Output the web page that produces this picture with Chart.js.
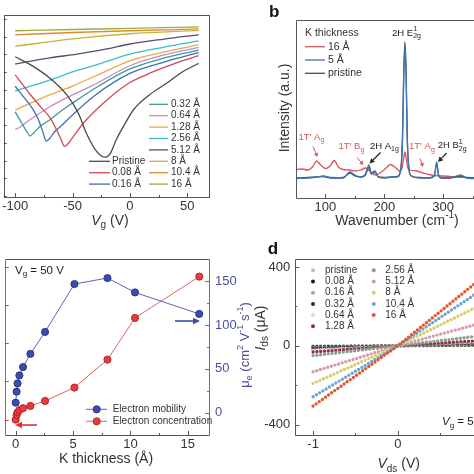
<!DOCTYPE html>
<html><head><meta charset="utf-8">
<script src="https://cdn.jsdelivr.net/npm/chart.js@4.4.1/dist/chart.umd.min.js"></script>
<style>
html,body{margin:0;padding:0;background:#fff;overflow:hidden;width:474px;height:474px;position:relative;}
canvas{position:absolute;}
</style></head><body>
<canvas id="ca" width="237" height="237" style="left:0;top:0"></canvas>
<canvas id="cb" width="290" height="237" style="left:237px;top:0"></canvas>
<canvas id="cc" width="262" height="237" style="left:0;top:237px"></canvas>
<canvas id="cd" width="270" height="237" style="left:250px;top:237px"></canvas>
<script>
// ---------------- DATA ----------------
// Panel a: transfer curves, [Vg (V), log-current (decades, arbitrary offset)]
const aLabels = ['Pristine','0.08 Å','0.16 Å','0.32 Å','0.64 Å','1.28 Å','2.56 Å','5.12 Å','8 Å','10.4 Å','16 Å'];
const aPristine = [[-100,7.87],[-84,7.31],[-70,6.67],[-55,5.71],[-45,4.69],[-38,3.56],[-30,2.60],[-26,2.32],[-22,2.19],[-17,2.41],[-12,3.16],[-4,4.11],[3,4.86],[17,5.71],[32,6.37],[46,7.02],[60,7.50]];
const a008 = [[-100,6.84],[-87,5.75],[-78,5.05],[-70,4.45],[-64,3.75],[-60,3.2],[-57,2.8],[-54,2.95],[-50,3.3],[-40,4.15],[-20,5.42],[0,6.41],[20,7.01],[40,7.51],[60,7.93]];
const a016 = [[-100,6.2],[-92,5.55],[-85,4.95],[-80,4.35],[-76,3.65],[-73,3.1],[-70,3.25],[-66,3.6],[-60,3.95],[-50,4.58],[-30,5.71],[0,6.93],[30,7.57],[60,8.10]];
const a032 = [[-100,4.75],[-95,4.2],[-90,3.65],[-87,3.39],[-84,3.55],[-78,3.95],[-70,4.29],[-60,4.8],[-50,5.25],[-30,6.10],[0,7.18],[30,7.80],[60,8.25]];
const a064 = [[-100,3.77],[-97,3.84],[-90,4.18],[-70,5.03],[-50,5.71],[-30,6.33],[0,7.36],[30,7.97],[60,8.40]];
const a128 = [[-100,4.86],[-70,5.71],[-50,6.21],[-30,6.78],[0,7.64],[30,8.14],[60,8.55]];
const a256 = [[-100,5.93],[-70,6.55],[-50,7.01],[-30,7.40],[0,8.02],[30,8.42],[60,8.77]];
const a512 = [[-100,7.46],[-70,7.80],[-46,8.02],[-20,8.31],[0,8.59],[30,8.87],[60,9.11]];
const a8 = [[-100,8.46],[-50,8.88],[0,9.17],[60,9.36]];
const a104 = [[-100,9.11],[-50,9.24],[0,9.34],[60,9.44]];
const a16 = [[-100,9.34],[-50,9.41],[0,9.47],[60,9.56]];
const aSeries = [aPristine,a008,a016,a032,a064,a128,a256,a512,a8,a104,a16];
const aTicksX = [-100,-50,0,50];

// Panel b: Raman spectra, [wavenumber (cm-1), intensity (a.u.)]
const bLabels = ['16 Å','5 Å','pristine'];
const b16 = [[50,28.5],[60,29],[70,28],[78,31],[85,37],[92,33],[100,29.5],[108,32],[115,37.5],[122,31],[130,28.5],[140,28],[150,27],[160,28],[168,30],[175,27],[185,23],[195,26],[205,31],[210,33.5],[218,31],[226,27],[230,30],[233,40],[235,46],[237,40],[240,30],[244,28],[255,27],[266,25],[280,23],[300,22],[325,21],[350,20],[370,20],[400,20]];
const b5 = [[50,19.5],[70,20],[85,21],[96,22],[110,20.5],[130,20],[142,26],[150,23],[160,21],[168,24],[174,33],[178,25],[184,27],[190,21],[200,20],[213,21],[222,21],[228,28],[231,60],[233,120],[235,152],[237,125],[239,60],[242,28],[246,22],[260,20],[275,20],[285,22],[289,36],[292,24],[296,20],[310,20],[330,23],[340,20],[355,19.5],[370,20],[400,20]];
const bPristine = [[50,20],[70,20.5],[85,21],[96,21.5],[110,20],[130,20.5],[142,25],[150,22],[160,21],[168,23],[174,31],[178,24],[184,26],[190,21],[200,20.5],[213,21],[222,21.5],[228,29],[231,62],[233,124],[235,156],[237,128],[239,62],[242,29],[246,22],[260,20.5],[275,20],[285,22],[289,35],[292,23],[296,20.5],[310,20],[330,22],[340,20.5],[355,20],[370,20],[400,20]];
const bTicksX = [100,200,300];

// Panel c: vs K thickness
const kThick = [0,0.08,0.16,0.32,0.64,1.28,2.56,5.12,8,10.4,16];
const mobility = [11.4,23.9,33.4,42.5,52,67,92,146.6,153.4,137,112.5];
const concentration = [0,0.12,0.19,0.25,0.30,0.36,0.49,0.84,1.57,2.66,3.74];
const cTicksX = [0,5,10,15];
const cTicksR = [0,50,100,150];
const cTicksL = [0,1,2,3,4];

// Panel d: output curves, Ids (uA) at Vds = -1, 0, 1 V
const dLabels = ['pristine','0.08 Å','0.16 Å','0.32 Å','0.64 Å','1.28 Å','2.56 Å','5.12 Å','8 Å','10.4 Å','16 Å'];
const vds = [-1,0,1];
const dPristine = [-1,0,1];
const d008 = [-5,0,5];
const d016 = [-10,0,10];
const d032 = [-14,0,15];
const d064 = [-22,0,21];
const d128 = [-32,0,27];
const d256 = [-50,0,52];
const d512 = [-132,0,117];
const d8 = [-191,0,211];
const d104 = [-259,0,286];
const d16 = [-306,0,347];
const dSeries = [dPristine,d008,d016,d032,d064,d128,d256,d512,d8,d104,d16];
const dTicksY = [-400,0,400];
const dTicksX = [-1,0,1];

// ---------------- STYLE ----------------
const FONT = '"Liberation Sans", Arial, Helvetica, sans-serif';
Chart.defaults.font.family = FONT;
Chart.defaults.font.size = 13;
Chart.defaults.color = '#333';
const aColors = ['#4a4a4a','#d2475a','#3f6fae','#3a9a96','#c58ac9','#e9aa45','#3bbccc','#5b4a6e','#c9b23a','#e08a2e','#9bb03a'];
const bColors = ['#d9535b','#3a78b8','#4a4a4a'];
const dColors = ['#bdbdbd','#1a1a1a','#a6a6a6','#2b2b2b','#ecd0d4','#8a3244','#88a090','#d99aa8','#d8cf6a','#6aa6d6','#e8552a'];
const AX = '#555';

function R(t,o){return Object.assign({t:t},o||{});}
function fontOf(p,size){const s=(p.sub||p.sup)?Math.round(size*0.7):size;return (p.i?'italic ':'')+(p.b?'bold ':'')+s+'px '+FONT;}
function partW(ctx,p,size){
  if(p.st){ctx.font=fontOf({sub:true},size);return Math.max(ctx.measureText(p.st[0]).width,ctx.measureText(p.st[1]).width);}
  ctx.font=fontOf(p,size);return ctx.measureText(p.t).width;}
function rich(ctx,parts,x,y,size,color,align){
  ctx.save();ctx.fillStyle=color;ctx.textBaseline='middle';ctx.textAlign='left';
  const w=parts.map(p=>partW(ctx,p,size));const tot=w.reduce((a,b)=>a+b,0);
  let cx=align==='center'?x-tot/2:align==='right'?x-tot:x;
  parts.forEach((p,k)=>{
    if(p.st){ctx.font=fontOf({sub:true},size);ctx.fillText(p.st[0],cx,y-size*0.42);ctx.fillText(p.st[1],cx,y+size*0.32);}
    else{ctx.font=fontOf(p,size);const dy=p.sub?size*0.32:p.sup?-size*0.38:0;ctx.fillText(p.t,cx,y+dy);}
    cx+=w[k];});
  ctx.restore();}
function richV(ctx,parts,x,y,size,color){ctx.save();ctx.translate(x,y);ctx.rotate(-Math.PI/2);rich(ctx,parts,0,0,size,color,'center');ctx.restore();}
function seg(ctx,x1,y1,x2,y2,color,lw){ctx.save();ctx.strokeStyle=color;ctx.lineWidth=lw||1;ctx.beginPath();ctx.moveTo(x1,y1);ctx.lineTo(x2,y2);ctx.stroke();ctx.restore();}
function ticksIn(scale,vals,len,side,color){
  const ctx=scale.chart.ctx,ca=scale.chart.chartArea;
  ctx.save();ctx.strokeStyle=color;ctx.lineWidth=1;ctx.beginPath();
  vals.forEach(v=>{const p=Math.round(scale.getPixelForValue(v))+0.5;
    if(side==='bottom'){ctx.moveTo(p,ca.bottom);ctx.lineTo(p,ca.bottom-len);}
    else if(side==='left'){ctx.moveTo(ca.left,p);ctx.lineTo(ca.left+len,p);}
    else {ctx.moveTo(ca.right,p);ctx.lineTo(ca.right-len,p);}});
  ctx.stroke();ctx.restore();}
function edges(ca){return {L:Math.round(ca.left)+0.5,Rr:Math.round(ca.right)+0.5,T:Math.round(ca.top)+0.5,B:Math.round(ca.bottom)+0.5};}
function arrow(ctx,x1,y1,x2,y2,color,lw,hl,hw){
  const a=Math.atan2(y2-y1,x2-x1);const bx=x2-hl*Math.cos(a),by=y2-hl*Math.sin(a);
  ctx.save();ctx.strokeStyle=color;ctx.fillStyle=color;ctx.lineWidth=lw;
  ctx.beginPath();ctx.moveTo(x1,y1);ctx.lineTo(bx,by);ctx.stroke();
  ctx.beginPath();ctx.moveTo(x2,y2);ctx.lineTo(bx+hw*Math.sin(a),by-hw*Math.cos(a));ctx.lineTo(bx-hw*Math.sin(a),by+hw*Math.cos(a));ctx.closePath();ctx.fill();ctx.restore();}
const toXY = arr => arr.map(([x,y])=>({x:x,y:y}));
const setTicks = vals => (s => { s.ticks = vals.map(v=>({value:v})); });
const baseOpts = {responsive:false,animation:false,events:[],plugins:{legend:{display:false},tooltip:{enabled:false}}};
const hideGrid = {display:false,drawTicks:false};

// ---------------- PANEL A ----------------
new Chart(document.getElementById('ca'),{
  type:'line',
  data:{datasets:aSeries.map((s,i)=>({label:aLabels[i],data:toXY(s),borderColor:aColors[i],borderWidth:1.3,pointRadius:0,cubicInterpolationMode:'monotone',fill:false}))},
  options:Object.assign({},baseOpts,{
    layout:{padding:{top:15,right:28,left:0,bottom:0}},
    scales:{
      x:{type:'linear',min:-110,max:69,grid:hideGrid,border:{display:false},afterBuildTicks:setTicks(aTicksX),afterFit:s=>{s.height=40;},
         ticks:{padding:2,maxRotation:0,autoSkip:false,color:'#333'}},
      y:{type:'linear',min:-0.06,max:10.23,grid:hideGrid,border:{display:false},ticks:{display:false},afterFit:s=>{s.width=3;}}
    }}),
  plugins:[{id:'decoA',afterDraw(c){
    const ctx=c.ctx,ca=c.chartArea,e=edges(ca);
    ctx.save();ctx.strokeStyle=AX;ctx.lineWidth=1;ctx.strokeRect(e.L,e.T,e.Rr-e.L,e.B-e.T);ctx.restore();
    ticksIn(c.scales.x,aTicksX,4,'bottom',AX);
    ticksIn(c.scales.x,[-75,-25,25],2,'bottom',AX);
    ticksIn(c.scales.y,[0,1,2,3,4,5,6,7,8,9,10],3,'left',AX);
    rich(ctx,[R('V',{i:true}),R('g',{sub:true}),R(' (V)')],110,221,14,'#333','center');
    const col2=[3,4,5,6,7,8,9,10],col1=[0,1,2];
    col2.forEach((k,j)=>{const y=104.3+j*11.4;seg(ctx,149,y,168,y,aColors[k],1.3);rich(ctx,[R(aLabels[k])],171,y,10,'#333','left');});
    col1.forEach((k,j)=>{const y=161.3+j*11.4;seg(ctx,89,y,110,y,aColors[k],1.3);rich(ctx,[R(aLabels[k])],112,y,10,'#333','left');});
  }}]
});

// ---------------- PANEL B ----------------
new Chart(document.getElementById('cb'),{
  type:'line',
  data:{datasets:[b16,b5,bPristine].map((s,i)=>({label:bLabels[i],data:toXY(s),borderColor:bColors[i],borderWidth:1.3,pointRadius:0,cubicInterpolationMode:'monotone',fill:false,order:[2,0,1][i]}))},
  options:Object.assign({},baseOpts,{
    layout:{padding:{top:20,right:25,left:0,bottom:0}},
    scales:{
      x:{type:'linear',min:50,max:400,grid:hideGrid,border:{display:false},afterBuildTicks:setTicks(bTicksX),afterFit:s=>{s.height=39;},
         ticks:{padding:2,maxRotation:0,autoSkip:false,color:'#333'}},
      y:{type:'linear',min:0,max:178,grid:hideGrid,border:{display:false},ticks:{display:false},afterFit:s=>{s.width=59;}}
    }}),
  plugins:[{id:'decoB',afterDraw(c){
    const ctx=c.ctx,ca=c.chartArea,e=edges(ca);
    seg(ctx,e.L,e.T,e.Rr,e.T,AX);seg(ctx,e.L,e.T,e.L,e.B,AX);seg(ctx,e.L,e.B,e.Rr,e.B,AX);
    ticksIn(c.scales.x,bTicksX,4,'bottom',AX);
    ticksIn(c.scales.x,[150,250,350],2,'bottom',AX);
    rich(ctx,[R('b',{b:true})],32,12,17,'#111','left');
    richV(ctx,[R('Intensity (a.u.)')],48,108,14,'#333');
    rich(ctx,[R('Wavenumber (cm'),R('-1',{sup:true}),R(')')],160,221,14,'#333','center');
    rich(ctx,[R('K thickness')],68,33,10.5,'#333','left');
    [0,1,2].forEach(k=>{const y=46.7+k*13.3;seg(ctx,68,y,88,y,bColors[k],1.3);rich(ctx,[R(bLabels[k])],91,y,10.5,'#333','left');});
    const red='#d9535b',blk='#222',fs=9.5;
    rich(ctx,[R('2H E'),R('',{st:['1','2g']})],169.5,33,fs,blk,'center');
    rich(ctx,[R("1T' A"),R('g',{sub:true})],61.5,137.3,fs,red,'left');
    arrow(ctx,76,146.5,80.5,157,red,1,4,2.2);
    rich(ctx,[R("1T' B"),R('g',{sub:true})],101.5,146.7,fs,red,'left');
    arrow(ctx,120,157.5,126.5,165,red,1,4,2.2);
    rich(ctx,[R('2H A'),R('1g',{sub:true})],133,146,fs,blk,'left');
    arrow(ctx,143.5,152.5,132.5,163.5,blk,1.2,5,2.6);
    rich(ctx,[R("1T' A"),R('g',{sub:true})],172,146.7,fs,red,'left');
    arrow(ctx,183,158.5,186,167,red,1,4,2.2);
    rich(ctx,[R('2H B'),R('',{st:['1','2g']})],200.7,145.7,fs,blk,'left');
    arrow(ctx,209.5,153,201,162,blk,1.2,5,2.6);
  }}]
});

// ---------------- PANEL C ----------------
new Chart(document.getElementById('cc'),{
  type:'line',
  data:{labels:kThick,datasets:[
    {label:'Electron mobility',data:kThick.map((k,i)=>({x:k,y:mobility[i]})),yAxisID:'yR',borderColor:'#5564b4',borderWidth:1,pointRadius:3.6,pointBackgroundColor:'#3a4cb0',pointBorderColor:'#1f2b78',pointBorderWidth:0.8,tension:0},
    {label:'Electron concentration',data:kThick.map((k,i)=>({x:k,y:concentration[i]})),yAxisID:'yL',borderColor:'#e06262',borderWidth:1,pointRadius:3.6,pointBackgroundColor:'#e83c3c',pointBorderColor:'#a51c1c',pointBorderWidth:0.8,tension:0}
  ]},
  options:Object.assign({},baseOpts,{
    layout:{padding:{top:22,right:0,left:0,bottom:0}},
    scales:{
      x:{type:'linear',min:-0.95,max:16.85,grid:hideGrid,border:{display:false},afterBuildTicks:setTicks(cTicksX),afterFit:s=>{s.height=39;},
         ticks:{padding:2,maxRotation:0,autoSkip:false,color:'#333'}},
      yL:{type:'linear',position:'left',min:-0.4,max:4.2,grid:hideGrid,border:{display:false},ticks:{display:false},afterFit:s=>{s.width=3;}},
      yR:{type:'linear',position:'right',min:-25.4,max:175.1,grid:hideGrid,border:{display:false},afterBuildTicks:setTicks(cTicksR),afterFit:s=>{s.width=53;},
          ticks:{padding:6,color:'#4b4f9a'}}
    }}),
  plugins:[{id:'decoC',afterDraw(c){
    const ctx=c.ctx,ca=c.chartArea,e=edges(ca);
    seg(ctx,e.L,e.T,e.Rr,e.T,AX);seg(ctx,e.L,e.B,e.Rr,e.B,AX);
    seg(ctx,e.L,e.T,e.L,e.B,'#e04848');seg(ctx,e.Rr,e.T,e.Rr,e.B,'#6569ab');
    ticksIn(c.scales.x,cTicksX,4,'bottom',AX);
    ticksIn(c.scales.x,[2.5,7.5,12.5],2,'bottom',AX);
    ticksIn(c.scales.yL,cTicksL,4,'left','#e04848');
    ticksIn(c.scales.yR,cTicksR,4,'right','#6569ab');
    ticksIn(c.scales.yR,[25,75,125],2,'right','#6569ab');
    rich(ctx,[R('V'),R('g',{sub:true}),R(' = 50 V')],15,33.5,11.5,'#222','left');
    rich(ctx,[R('K thickness (Å)')],106,222,14,'#333','center');
    richV(ctx,[R('μ'),R('e',{sub:true}),R(' (cm'),R('2',{sup:true}),R(' V'),R('-1',{sup:true}),R(' s'),R('-1',{sup:true}),R(')')],245,108,13,'#4b4f9a');
    const lg=[['Electron mobility','#5564b4','#3a4cb0','#1f2b78'],['Electron concentration','#e06262','#e83c3c','#a51c1c']];
    lg.forEach((d,j)=>{const y=172.3+j*12;seg(ctx,86,y,107,y,d[1],1);
      ctx.save();ctx.beginPath();ctx.arc(96.7,y,3.6,0,Math.PI*2);ctx.fillStyle=d[2];ctx.fill();ctx.strokeStyle=d[3];ctx.lineWidth=0.8;ctx.stroke();ctx.restore();
      rich(ctx,[R(d[0])],112.7,y,10,'#333','left');});
    arrow(ctx,175,84,200,84,'#3d4d9e',1.6,7,3.2);
    arrow(ctx,37,188,15,188,'#e03030',1.6,7,3.2);
  }}]
});

// ---------------- PANEL D ----------------
new Chart(document.getElementById('cd'),{
  type:'line',
  data:{datasets:dSeries.map((s,i)=>({label:dLabels[i],data:vds.map((v,j)=>({x:v,y:s[j]})),borderColor:dColors[i],borderWidth:3.4,borderDash:[0,3.8],borderCapStyle:'round',pointRadius:0,tension:0,fill:false,order:dSeries.length-i}))},
  options:Object.assign({},baseOpts,{
    layout:{padding:{top:21.7,right:19.7,left:0,bottom:0}},
    scales:{
      x:{type:'linear',min:-1.21,max:1.21,grid:hideGrid,border:{display:false},afterBuildTicks:setTicks(dTicksX),afterFit:s=>{s.height=39;},
         ticks:{padding:2,maxRotation:0,autoSkip:false,color:'#333'}},
      y:{type:'linear',min:-453,max:442,grid:hideGrid,border:{display:false},afterBuildTicks:setTicks(dTicksY),afterFit:s=>{s.width=45.3;},
         ticks:{padding:5,color:'#333'}}
    }}),
  plugins:[{id:'decoD',afterDraw(c){
    const ctx=c.ctx,ca=c.chartArea,e=edges(ca);
    seg(ctx,e.L,e.T,e.Rr,e.T,AX);seg(ctx,e.L,e.T,e.L,e.B,AX);seg(ctx,e.L,e.B,e.Rr,e.B,AX);
    ticksIn(c.scales.x,dTicksX,4,'bottom',AX);
    ticksIn(c.scales.x,[-0.5,0.5],2,'bottom',AX);
    ticksIn(c.scales.y,dTicksY,4,'left',AX);
    ticksIn(c.scales.y,[-200,200],2,'left',AX);
    rich(ctx,[R('d',{b:true})],17.7,12.7,17,'#111','left');
    richV(ctx,[R('I',{i:true}),R('ds',{sub:true}),R(' (μA)')],11,91,14,'#333');
    rich(ctx,[R('V',{i:true}),R('ds',{sub:true}),R(' (V)')],148.7,227.5,14,'#333','center');
    rich(ctx,[R('V',{i:true}),R('g',{sub:true}),R(' = 50 V')],192,185,11.5,'#222','left');
    dLabels.forEach((lab,k)=>{
      const col=k<6?0:1,row=k<6?k:k-6;const y=33.3+row*11.2;
      const mx=col?123.7:63,tx=col?135.3:75;
      ctx.save();ctx.beginPath();ctx.arc(mx,y,2,0,Math.PI*2);ctx.fillStyle=dColors[k];ctx.fill();ctx.restore();
      rich(ctx,[R(lab)],tx,y,10,'#333','left');});
  }}]
});
</script>
</body></html>
